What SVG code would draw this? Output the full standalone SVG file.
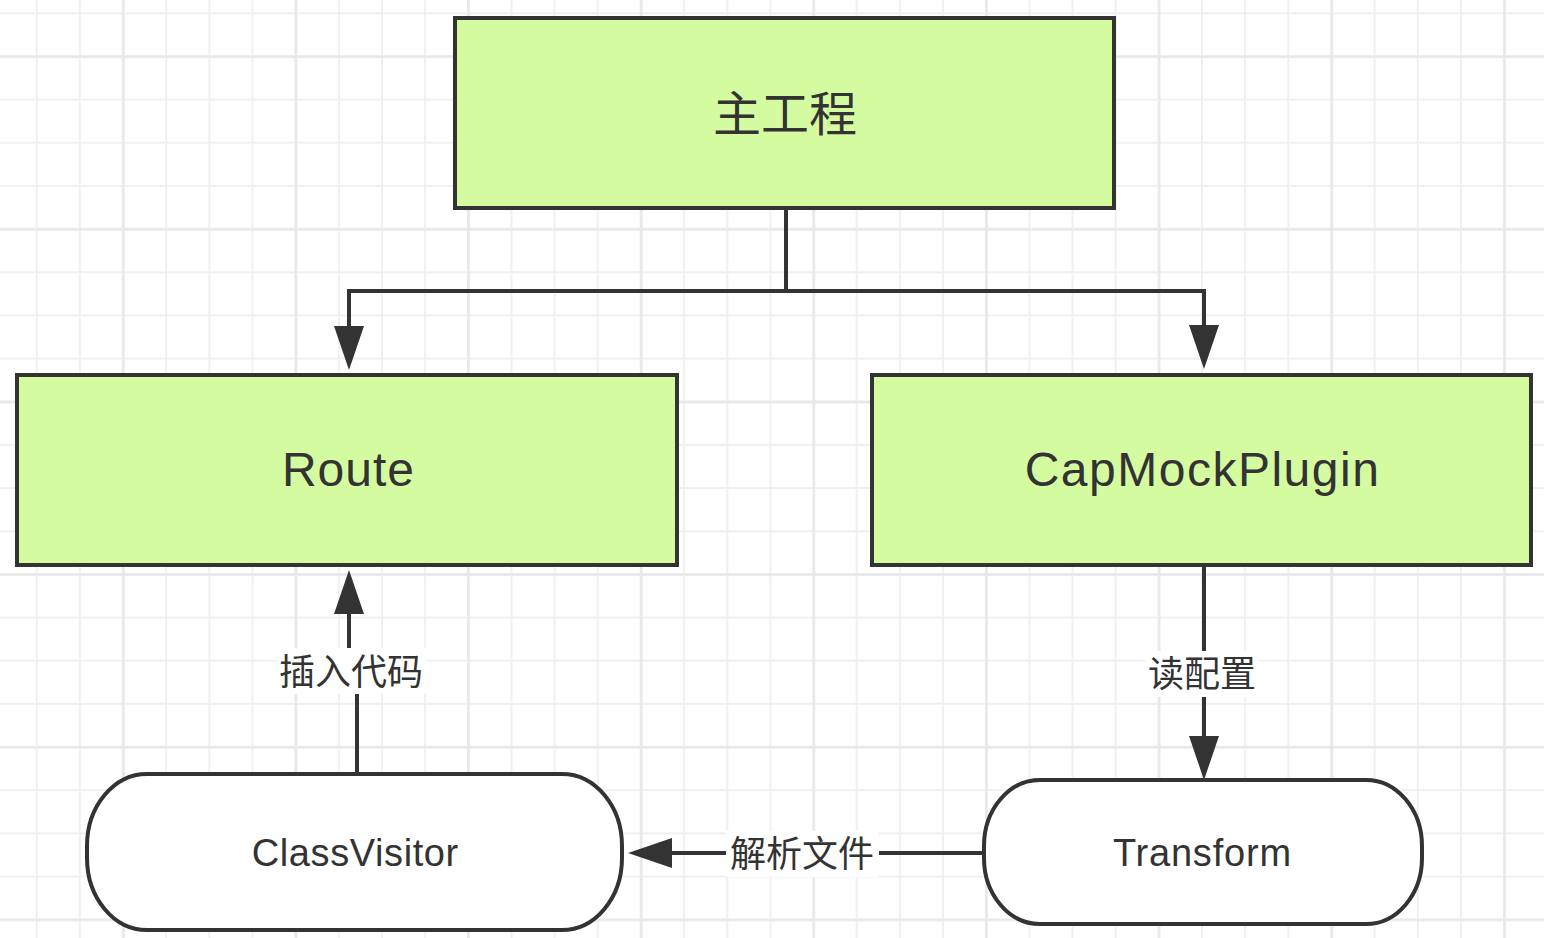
<svg xmlns="http://www.w3.org/2000/svg" width="1544" height="938" viewBox="0 0 1544 938">
<style>
.box{fill:#d5fba1;stroke:#333333;stroke-width:4}
.term{fill:#ffffff;stroke:#333333;stroke-width:4}
.edge{fill:none;stroke:#333333;stroke-width:4}
.lat{font-family:"Liberation Sans",Arial,sans-serif;fill:#333333;text-anchor:middle}
.cjk{font-family:"Noto Sans CJK SC","Noto Sans",sans-serif;fill:#333333;text-anchor:middle}
.lbl{fill:#ffffff}
</style>
<defs>
<pattern id="minor" patternUnits="userSpaceOnUse" x="15.12" y="-8.28" width="43.16" height="43.16">
<path d="M21.58,0 V43.16 M0,21.58 H43.16" stroke="#f0f0f0" stroke-width="2" fill="none"/>
</pattern>
<pattern id="major" patternUnits="userSpaceOnUse" x="36.98" y="-29.62" width="172.64" height="172.64">
<path d="M86.32,0 V172.64 M0,86.32 H172.64" stroke="#e8e8e8" stroke-width="2.5" fill="none"/>
</pattern>
<marker id="arr" markerUnits="userSpaceOnUse" markerWidth="46" markerHeight="32" viewBox="0 -16 46 32" refX="0" refY="0" orient="auto">
<path d="M0,-15 L44,0 L0,15 Z" fill="#333333"/>
</marker>
</defs>
<rect width="1544" height="938" fill="#ffffff"/>
<rect width="1544" height="938" fill="url(#minor)"/>
<rect width="1544" height="938" fill="url(#major)"/>

<g id="connectors">
<path class="edge" d="M786,208 V291 H349 V326" marker-end="url(#arr)"/>
<path class="edge" d="M786,291 H1204 V325" marker-end="url(#arr)"/>
<path class="edge" d="M357,774 V672 H349 V614" marker-end="url(#arr)"/>
<path class="edge" d="M1204,565 V736" marker-end="url(#arr)"/>
<path class="edge" d="M985,853 H672" marker-end="url(#arr)"/>
<g id="label-insert">
<rect class="lbl" x="276" y="648" width="151" height="46"/>
<text class="cjk" x="351" y="685" font-size="36">插入代码</text>
</g>
<g id="label-read">
<rect class="lbl" x="1145" y="651" width="114" height="46"/>
<text class="cjk" x="1202" y="687" font-size="36">读配置</text>
</g>
<g id="label-parse">
<rect class="lbl" x="726" y="831" width="153" height="46"/>
<text class="cjk" x="802" y="867" font-size="36">解析文件</text>
</g>
</g>

<g id="node-main">
<rect class="box" x="455" y="18" width="659" height="190"/>
<text class="cjk" x="785" y="131" font-size="48">主工程</text>
</g>
<g id="node-route">
<rect class="box" x="17" y="375" width="660" height="190"/>
<text class="lat" x="348.5" y="486" font-size="48" letter-spacing="1">Route</text>
</g>
<g id="node-capmock">
<rect class="box" x="872" y="375" width="659" height="190"/>
<text class="lat" x="1202.5" y="486" font-size="48" letter-spacing="1.5">CapMockPlugin</text>
</g>
<g id="node-classvisitor">
<rect class="term" x="87" y="774" width="535" height="156" rx="60" ry="72"/>
<text class="lat" x="355.3" y="866" font-size="38" letter-spacing="0.6">ClassVisitor</text>
</g>
<g id="node-transform">
<rect class="term" x="984" y="780" width="438" height="144" rx="56" ry="66"/>
<text class="lat" x="1202.4" y="866" font-size="38" letter-spacing="0.8">Transform</text>
</g>
</svg>
